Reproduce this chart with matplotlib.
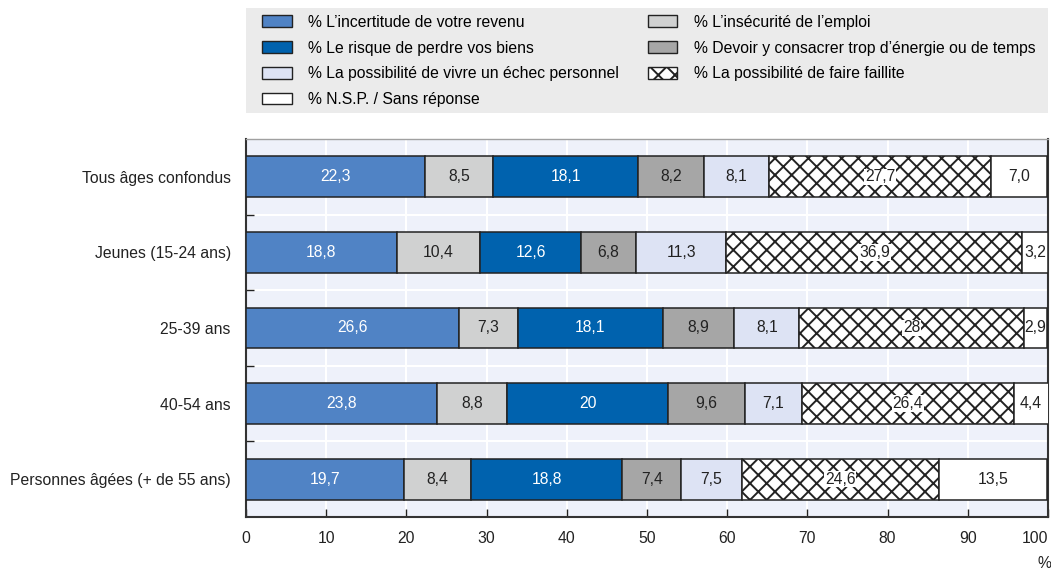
import matplotlib.pyplot as plt
from matplotlib.patches import Patch, Rectangle

plt.rcParams["font.family"] = ["Liberation Sans", "DejaVu Sans"]
plt.rcParams["hatch.linewidth"] = 1.4
FS = 11.3

# Age groups, top to bottom
groupes = [
    "Tous âges confondus",
    "Jeunes (15-24 ans)",
    "25-39 ans",
    "40-54 ans",
    "Personnes âgées (+ de 55 ans)",
]

# Shares in %, written as published (decimal comma)
incertitude = ["22,3", "18,8", "26,6", "23,8", "19,7"]
insecurite = ["8,5", "10,4", "7,3", "8,8", "8,4"]
risque = ["18,1", "12,6", "18,1", "20", "18,8"]
devoir = ["8,2", "6,8", "8,9", "9,6", "7,4"]
echec = ["8,1", "11,3", "8,1", "7,1", "7,5"]
faillite = ["27,7", "36,9", "28", "26,4", "24,6"]
nsp = ["7,0", "3,2", "2,9", "4,4", "13,5"]

series = [
    ("% L’incertitude de votre revenu", incertitude, "#5083C5", None, "white"),
    ("% L’insécurité de l’emploi", insecurite, "#D0D1D1", None, "#222222"),
    ("% Le risque de perdre vos biens", risque, "#0062AE", None, "white"),
    ("% Devoir y consacrer trop d’énergie ou de temps", devoir, "#A6A6A6", None, "#222222"),
    ("% La possibilité de vivre un échec personnel", echec, "#DDE3F4", None, "#222222"),
    ("% La possibilité de faire faillite", faillite, "white", "xx", "#222222"),
    ("% N.S.P. / Sans réponse", nsp, "white", None, "#222222"),
]

fig = plt.figure(figsize=(10.51, 5.74), dpi=100)
ax = fig.add_axes([246 / 1051, 57 / 574, 802 / 1051, 378 / 574])
ax.set_facecolor("#EEF1FA")

y = list(range(len(groupes)))
left = [0.0] * len(groupes)
handles = {}
for name, labels, color, hatch, tcolor in series:
    vals = [float(s.replace(",", ".")) for s in labels]
    bars = ax.barh(y, vals, left=left, height=0.54, color=color, hatch=hatch,
                   edgecolor="#222222", linewidth=1.1, zorder=3)
    for b, s in zip(bars, labels):
        cx = b.get_x() + b.get_width() / 2
        cy = b.get_y() + b.get_height() / 2
        kw = {}
        if hatch:
            kw["bbox"] = dict(boxstyle="square,pad=0.05", fc="white", ec="none")
        ax.text(cx, cy, s, ha="center", va="center", color=tcolor,
                fontsize=FS, zorder=4, **kw)
    left = [a + v for a, v in zip(left, vals)]
    handles[name] = Patch(facecolor=color, hatch=hatch, edgecolor="#222222",
                          linewidth=1.0)

ax.set_xlim(0, 100)
ax.set_ylim(len(groupes) - 0.5, -0.5)
ax.set_xticks(range(0, 101, 10))
ax.set_yticks(y)
ax.set_yticklabels(groupes)
ax.set_yticks([i + 0.5 for i in range(len(groupes) - 1)], minor=True)
ax.tick_params(axis="y", which="major", length=0, pad=11, labelsize=FS,
               colors="#222222")
ax.tick_params(axis="y", which="minor", direction="in", length=6, width=1,
               color="#222222")
ax.tick_params(axis="x", direction="in", length=6, width=1, pad=10,
               labelsize=FS, colors="#222222")
# keep "100" inside the figure
ax.get_xticklabels()[-1].set_horizontalalignment("right")
ax.grid(axis="x", color="white", linewidth=1.5, zorder=1)
ax.grid(axis="y", which="minor", color="white", linewidth=1.5, zorder=1)
ax.set_axisbelow(True)

for side in ["left", "bottom", "right"]:
    ax.spines[side].set_color("#333333")
    ax.spines[side].set_linewidth(1.5)
ax.spines["top"].set_color("#A0A0A0")
ax.spines["top"].set_linewidth(1.0)

fig.text(1044 / 1051, 1 - 563 / 574, "%", ha="center", va="center",
         fontsize=FS, color="#222222")

# Legend on a grey panel above the plot
fig.patches.append(Rectangle((246 / 1051, 1 - 113 / 574), 802 / 1051, 105 / 574,
                             transform=fig.transFigure, facecolor="#EBEBEB",
                             edgecolor="none", zorder=0))
order = [0, 2, 4, 6, 1, 3, 5]
names = [series[i][0] for i in order]
fig.legend([handles[n] for n in names], names, ncol=2, frameon=False,
           loc="upper left", bbox_to_anchor=(257 / 1051, 1 - 10 / 574),
           fontsize=FS, handlelength=1.9, handleheight=0.75,
           handletextpad=1.08, labelspacing=0.69, columnspacing=1.8,
           borderaxespad=0, borderpad=0.3)

fig.savefig("out.png", dpi=100)
